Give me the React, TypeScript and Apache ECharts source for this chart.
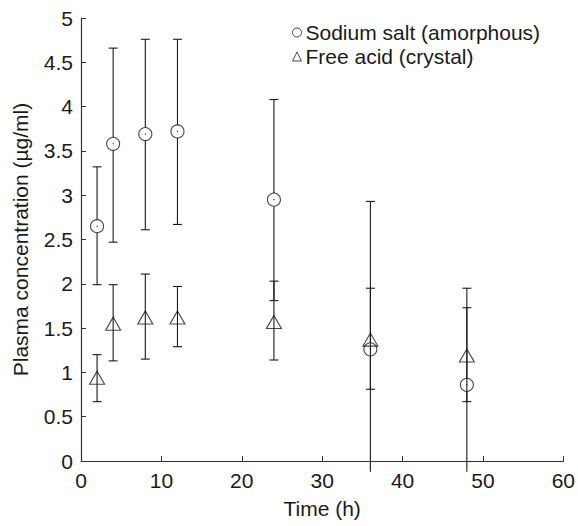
import React, { useEffect, useRef } from "react";
import * as echarts from "echarts";

const times = [2, 4, 8, 12, 24, 36, 48];
const sodiumMean = [2.65, 3.58, 3.69, 3.72, 2.95, 1.26, 0.86];
const sodiumUpper = [3.32, 4.66, 4.76, 4.76, 4.08, 2.93, 1.95];
const sodiumLower = [1.99, 2.47, 2.61, 2.67, 1.81, -0.12, -0.12];
const acidMean = [0.94, 1.55, 1.62, 1.62, 1.57, 1.37, 1.19];
const acidUpper = [1.2, 1.99, 2.11, 1.97, 2.03, 1.95, 1.73];
const acidLower = [0.67, 1.13, 1.15, 1.29, 1.14, 0.81, 0.67];

const FONT = "'Liberation Sans', Arial, Helvetica, sans-serif";
const INK = "#1a1a1a";
const CIRCLE_R = 6.5;

function makeErrorData(mean: number[], lo: number[], hi: number[]) {
  return times.map((t, i) => [t, mean[i], lo[i], hi[i]]);
}

function errorRenderer(gapAroundMarker: boolean) {
  return (params: any, api: any) => {
    const x = api.value(0);
    const m = api.coord([x, api.value(1)]);
    const lo = api.coord([x, api.value(2)]);
    const hi = api.coord([x, api.value(3)]);
    const cap = 4.5;
    const style = { stroke: INK, lineWidth: 1.1 };
    const children: any[] = [];
    if (gapAroundMarker) {
      children.push({ type: "line", shape: { x1: hi[0], y1: hi[1], x2: hi[0], y2: m[1] - CIRCLE_R }, style });
      children.push({ type: "line", shape: { x1: lo[0], y1: m[1] + CIRCLE_R, x2: lo[0], y2: lo[1] }, style });
      children.push({ type: "circle", shape: { cx: m[0], cy: m[1], r: 0.6 }, style: { fill: INK } });
    } else {
      children.push({ type: "line", shape: { x1: hi[0], y1: hi[1], x2: lo[0], y2: lo[1] }, style });
    }
    children.push({ type: "line", shape: { x1: hi[0] - cap, y1: hi[1], x2: hi[0] + cap, y2: hi[1] }, style });
    if (api.value(2) >= 0) {
      children.push({ type: "line", shape: { x1: lo[0] - cap, y1: lo[1], x2: lo[0] + cap, y2: lo[1] }, style });
    }
    return { type: "group", children };
  };
}

export default function App() {
  const ref = useRef<HTMLDivElement>(null);
  useEffect(() => {
    document.body.style.margin = "0";
    if (!ref.current) return;
    const chart = echarts.init(ref.current, null, { renderer: "svg" });
    const axisText = { color: INK, fontSize: 21, fontFamily: FONT };
    chart.setOption({
      animation: false,
      backgroundColor: "#ffffff",
      textStyle: { fontFamily: FONT },
      grid: { left: 81, right: 13, top: 18, bottom: 65 },
      legend: {
        orient: "vertical",
        left: 292,
        top: 22,
        itemWidth: 9,
        itemHeight: 9,
        itemGap: 3,
        padding: 0,
        data: ["Sodium salt (amorphous)", "Free acid (crystal)"],
        textStyle: { color: INK, fontSize: 21, fontFamily: FONT, padding: [0, 0, 0, -1] },
        itemStyle: { color: "transparent", borderColor: INK, borderWidth: 1 },
      },
      xAxis: {
        type: "value",
        min: 0,
        max: 60,
        interval: 10,
        name: "Time (h)",
        nameLocation: "middle",
        nameGap: 37,
        nameTextStyle: axisText,
        axisLine: { lineStyle: { color: "#333", width: 1.2 } },
        axisTick: { inside: true, length: 5, lineStyle: { color: "#333" } },
        axisLabel: { ...axisText, margin: 9 },
        splitLine: { show: false },
      },
      yAxis: {
        type: "value",
        min: 0,
        max: 5,
        interval: 0.5,
        name: "Plasma concentration (µg/ml)",
        nameLocation: "middle",
        nameGap: 50,
        nameTextStyle: axisText,
        axisLine: { show: true, lineStyle: { color: "#333", width: 1.2 } },
        axisTick: { show: true, inside: true, length: 5, lineStyle: { color: "#333" } },
        axisLabel: { ...axisText, margin: 8 },
        splitLine: { show: false },
      },
      series: [
        {
          type: "custom",
          name: "sodium-err",
          data: makeErrorData(sodiumMean, sodiumLower, sodiumUpper),
          renderItem: errorRenderer(true),
          clip: false,
          silent: true,
          z: 2,
        },
        {
          type: "custom",
          name: "acid-err",
          data: makeErrorData(acidMean, acidLower, acidUpper),
          renderItem: errorRenderer(false),
          clip: false,
          silent: true,
          z: 2,
        },
        {
          type: "scatter",
          name: "Sodium salt (amorphous)",
          data: times.map((t, i) => [t, sodiumMean[i]]),
          symbol: "circle",
          symbolSize: CIRCLE_R * 2,
          itemStyle: { color: "transparent", borderColor: INK, borderWidth: 1.1 },
          z: 3,
        },
        {
          type: "scatter",
          name: "Free acid (crystal)",
          data: times.map((t, i) => [t, acidMean[i]]),
          symbol: "triangle",
          symbolSize: [15, 13],
          itemStyle: { color: "transparent", borderColor: INK, borderWidth: 1.1 },
          z: 3,
        },
      ],
    });
    return () => chart.dispose();
  }, []);
  return <div ref={ref} style={{ width: 578, height: 526 }} />;
}
